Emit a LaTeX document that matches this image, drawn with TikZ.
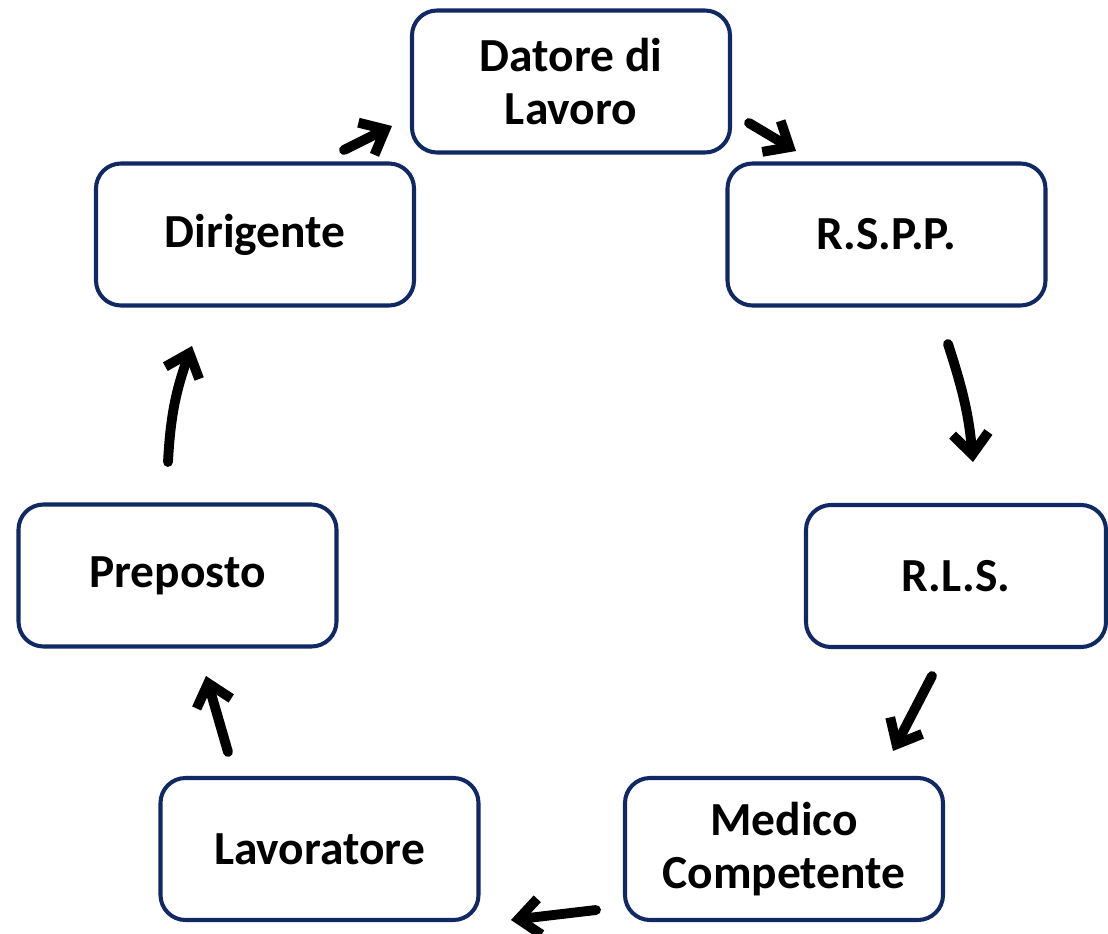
\documentclass[tikz,border=0pt]{standalone}
\usepackage{fontspec}
\setmainfont{Carlito}
\usetikzlibrary{arrows.meta}
\definecolor{boxblue}{RGB}{16,40,100}

\begin{document}
\begin{tikzpicture}[
  box/.style={draw=boxblue, line width=2.3pt, rounded corners=0.5cm, fill=white,
    minimum width=6.36cm, minimum height=2.84cm, align=center,
    font=\bfseries\fontsize{27}{30}\selectfont},
  flow/.style={line width=5.6pt, line cap=round, line join=round,
    -{Straight Barb[length=0.42cm, width=0.72cm]}}
]
\useasboundingbox (0,0) rectangle (22.16,-18.68);

\node(dat) at (11.42, -1.63) [box] {Datore di\\Lavoro};
\node(rspp) at (17.73, -4.69) [box] {R.S.P.P.};
\node(rls) at (19.12, -11.52) [box, minimum width=6.0cm] {R.L.S.};
\node(med) at (15.68, -16.98) [box] {Medico\\Competente};
\node(lav) at (6.39, -16.98) [box] {Lavoratore};
\node(pre) at (3.55, -11.51) [box] {Preposto};
\node(dir) at (5.10, -4.69) [box] {Dirigente};

% arrow ends
\coordinate(a1) at (6.88, -3.00);  \coordinate(b1) at (7.84, -2.52);
\coordinate(a2) at (14.98, -2.46); \coordinate(b2) at (15.92, -3.02);
\coordinate(a3) at (18.96, -6.88); \coordinate(b3) at (19.46, -9.24);
\coordinate(a4) at (18.64, -13.52); \coordinate(b4) at (17.86, -15.02);
\coordinate(a5) at (11.92, -18.20); \coordinate(b5) at (10.22, -18.40);
\coordinate(a6) at (4.56, -15.04);  \coordinate(b6) at (4.12, -13.52);
\coordinate(a7) at (3.36, -9.24);   \coordinate(b7) at (3.84, -6.92);

\draw[flow] (a1) to (b1);
\draw[flow] (a2) to (b2);
\draw[flow] (a3) to[out=-72, in=95] (b3);
\draw[flow] (a4) to (b4);
\draw[flow] (a5) to (b5);
\draw[flow] (a6) to (b6);
\draw[flow] (a7) to[out=87, in=-110] (b7);

\end{tikzpicture}
\end{document}
